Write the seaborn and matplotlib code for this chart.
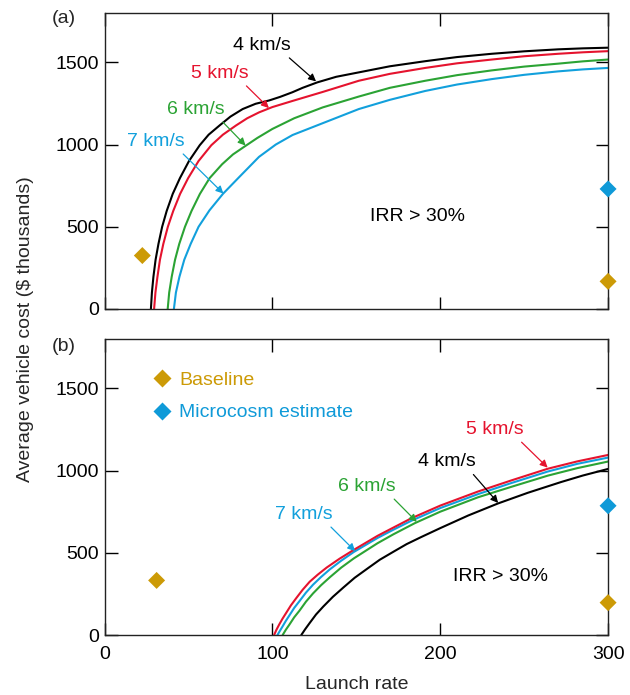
import pandas as pd
import seaborn as sns
import matplotlib.pyplot as plt
from matplotlib.lines import Line2D

# (a) launch rate -> average vehicle cost ($ thousands), one list pair per speed
a4_x = [27.6, 28.2, 29.1, 30.4, 32.1, 34.3, 37.0, 40.6, 44.9, 50.3, 56.7, 62.0, 68.5, 75.0, 82.3, 90.0,
        98.0, 104.6, 111.9, 118.0, 126.7, 138.0, 151.5, 170.0, 191.1, 210.0, 230.7, 250.0, 270.3, 285.0, 300]
a4_y = [0, 100, 196, 300, 396, 500, 596, 700, 796, 900, 996, 1060, 1116, 1170, 1216, 1248,
        1268, 1290, 1318, 1345, 1378, 1412, 1439, 1476, 1507, 1532, 1552, 1567, 1579, 1585, 1589]
a5_x = [29.5, 30.3, 31.5, 33.0, 35.0, 37.7, 40.9, 45.0, 49.8, 56.0, 63.6, 70.5, 78.3, 85.0, 92.1, 100.0,
        111.9, 130.0, 151.5, 170.0, 191.1, 210.0, 230.7, 250.0, 270.3, 285.0, 300]
a5_y = [0, 100, 196, 300, 396, 500, 596, 700, 796, 900, 996, 1060, 1116, 1160, 1196, 1228,
        1265, 1320, 1388, 1430, 1466, 1494, 1517, 1537, 1552, 1561, 1568]
a6_x = [37.6, 38.5, 40.0, 42.0, 44.5, 47.9, 51.8, 56.8, 62.6, 70.0, 76.5, 83.7, 91.0, 100.0, 113.0,
        130.0, 151.5, 170.0, 191.1, 210.0, 230.7, 250.0, 270.3, 285.0, 300]
a6_y = [0, 100, 196, 300, 396, 500, 596, 700, 796, 880, 940, 990, 1040, 1095, 1160,
        1226, 1292, 1345, 1388, 1422, 1451, 1474, 1492, 1506, 1517]
a7_x = [41.3, 42.5, 44.6, 47.5, 51.3, 56.0, 62.5, 70.5, 80.0, 92.0, 102.0, 112.0, 130.0, 151.5,
        170.0, 191.1, 210.0, 230.7, 250.0, 270.3, 285.0, 300]
a7_y = [0, 100, 196, 300, 396, 500, 600, 700, 800, 925, 1000, 1058, 1130, 1216,
        1272, 1326, 1365, 1398, 1424, 1445, 1457, 1466]

# (b)
b4_x = [117.2, 119.5, 122.2, 126.0, 130.3, 136.0, 142.4, 149.0, 156.6, 164.0, 172.7, 180.0, 188.9, 200,
        216.7, 234.4, 252.2, 271.9, 285.0, 300]
b4_y = [0, 35, 73, 125, 173, 232, 290, 348, 404, 458, 510, 553, 597, 650,
        727, 800, 865, 930, 970, 1010]
b5_x = [101, 102.4, 104, 106, 108.1, 111, 114.1, 118, 122.2, 127, 132.3, 140, 148.5, 162.6, 172, 182.8, 200,
        222.6, 242.3, 264, 281.7, 300]
b5_y = [0, 32, 63, 99, 133, 180, 223, 275, 324, 367, 410, 464, 518, 603, 653, 710, 787,
        873, 940, 1011, 1056, 1095]
b6_x = [106.1, 108, 110.1, 113, 116.2, 120, 124.2, 129, 134.3, 141, 148.5, 162.6, 172, 184.8, 200,
        222.6, 242.3, 264, 281.7, 300]
b6_y = [0, 32, 63, 108, 149, 203, 253, 303, 352, 410, 466, 558, 612, 680, 750,
        838, 901, 969, 1015, 1055]
b7_x = [103, 104.5, 106.1, 108, 110.1, 113, 116.2, 120, 124.2, 129, 134.3, 141, 148.5, 162.6, 172, 182.8, 200,
        222.6, 242.3, 264, 281.7, 300]
b7_y = [0, 26, 53, 86, 119, 165, 207, 258, 306, 353, 400, 452, 505, 590, 640, 695, 772,
        857, 924, 994, 1041, 1079]

# single estimates
a_base_x, a_base_y = [22.5, 300], [325, 168]
a_micro_x, a_micro_y = [300], [730]
b_base_x, b_base_y = [31, 300], [332, 197]
b_micro_x, b_micro_y = [300], [786]

speeds = ['4 km/s', '5 km/s', '6 km/s', '7 km/s']
colors = {'4 km/s': 'black', '5 km/s': '#e5132e', '6 km/s': '#2ba334', '7 km/s': '#12a0dc'}
gold = '#cc9a06'
micro_blue = '#0f9ad8'

# label centre, arrow tip for each speed label
a_labels = {'4 km/s': ((93.6, 1604), (126, 1384)), '5 km/s': ((68.4, 1434), (97.9, 1222)),
            '6 km/s': ((54.5, 1214), (84, 994)), '7 km/s': ((30.7, 1020), (70.8, 702))}
b_labels = {'4 km/s': ((204, 1054), (234.5, 803)), '5 km/s': ((232.3, 1250), (264, 1018)),
            '6 km/s': ((156.5, 904), (186, 688)), '7 km/s': ((118.8, 734), (149.3, 510))}


def curves(xs, ys):
    frames = [pd.DataFrame({'rate': x, 'cost': y, 'speed': s}) for s, x, y in zip(speeds, xs, ys)]
    return pd.concat(frames, ignore_index=True)


sns.set_style('ticks')
plt.rcParams['font.family'] = ['Liberation Sans', 'DejaVu Sans']
plt.rcParams['font.size'] = 14

fig = plt.figure(figsize=(6.3, 6.95), dpi=100)
ax1 = fig.add_axes([0.166, 0.5554, 0.7992, 0.4259])
ax2 = fig.add_axes([0.166, 0.0863, 0.7992, 0.4259])

panels = [
    (ax1, curves([a4_x, a5_x, a6_x, a7_x], [a4_y, a5_y, a6_y, a7_y]), a_labels,
     a_base_x, a_base_y, a_micro_x, a_micro_y, (186.5, 564)),
    (ax2, curves([b4_x, b5_x, b6_x, b7_x], [b4_y, b5_y, b6_y, b7_y]), b_labels,
     b_base_x, b_base_y, b_micro_x, b_micro_y, (236, 354)),
]

for ax, df, labels, bx, by, mx, my, irr in panels:
    order = speeds[::-1] if ax is ax1 else ['4 km/s', '6 km/s', '7 km/s', '5 km/s']
    for s in order:
        sns.lineplot(data=df[df.speed == s], x='rate', y='cost', color=colors[s],
                     estimator=None, sort=False, lw=1.5, ax=ax)
    sns.scatterplot(x=bx, y=by, marker='D', s=75, color=gold, edgecolor='none',
                    clip_on=False, zorder=5, ax=ax)
    sns.scatterplot(x=mx, y=my, marker='D', s=75, color=micro_blue, edgecolor='none',
                    clip_on=False, zorder=5, ax=ax)
    for s, (txt, tip) in labels.items():
        ax.annotate(s, xy=tip, xytext=txt, ha='center', va='center', color=colors[s], fontsize=14,
                    arrowprops=dict(arrowstyle='-|>', color=colors[s], lw=0.9, mutation_scale=11,
                                    shrinkA=1, shrinkB=0, relpos=(0.88, 0.05)))
    ax.text(irr[0], irr[1], 'IRR > 30%', ha='center', va='center', fontsize=14, color='black')

    ax.set_xlim(0, 300)
    ax.set_ylim(0, 1800)
    ax.set_xticks([0, 100, 200, 300])
    ax.set_yticks([0, 500, 1000, 1500])
    ax.tick_params(direction='in', top=True, right=True, length=9, width=1,
                   labelsize=14, pad=4, colors='black')
    ax.tick_params(axis='x', pad=8)
    for sp in ax.spines.values():
        sp.set_visible(True)
        sp.set_linewidth(1.0)
        sp.set_color('#222222')
    ax.set_xlabel('')
    ax.set_ylabel('')

ax1.tick_params(axis='x', labelbottom=False)
ax2.set_xlabel('Launch rate', fontsize=14, labelpad=9)

handles = [Line2D([], [], ls='none', marker='D', ms=9, color=gold, mec='none'),
           Line2D([], [], ls='none', marker='D', ms=9, color=micro_blue, mec='none')]
ax2.legend(handles, ['Baseline', 'Microcosm estimate'], loc='upper left', bbox_to_anchor=(0.094, 0.89),
           frameon=False, handlelength=1.0, handletextpad=0.4, labelspacing=0.75,
           borderpad=0, borderaxespad=0, fontsize=14, labelcolor=[gold, micro_blue])

fig.text(0.1016, 0.973, '(a)', ha='center', va='center', fontsize=14)
fig.text(0.1016, 0.5015, '(b)', ha='center', va='center', fontsize=14)
fig.text(0.04, 0.526, 'Average vehicle cost ($ thousands)', rotation=90,
         ha='center', va='center', fontsize=14)

fig.savefig('out.png', dpi=100)
